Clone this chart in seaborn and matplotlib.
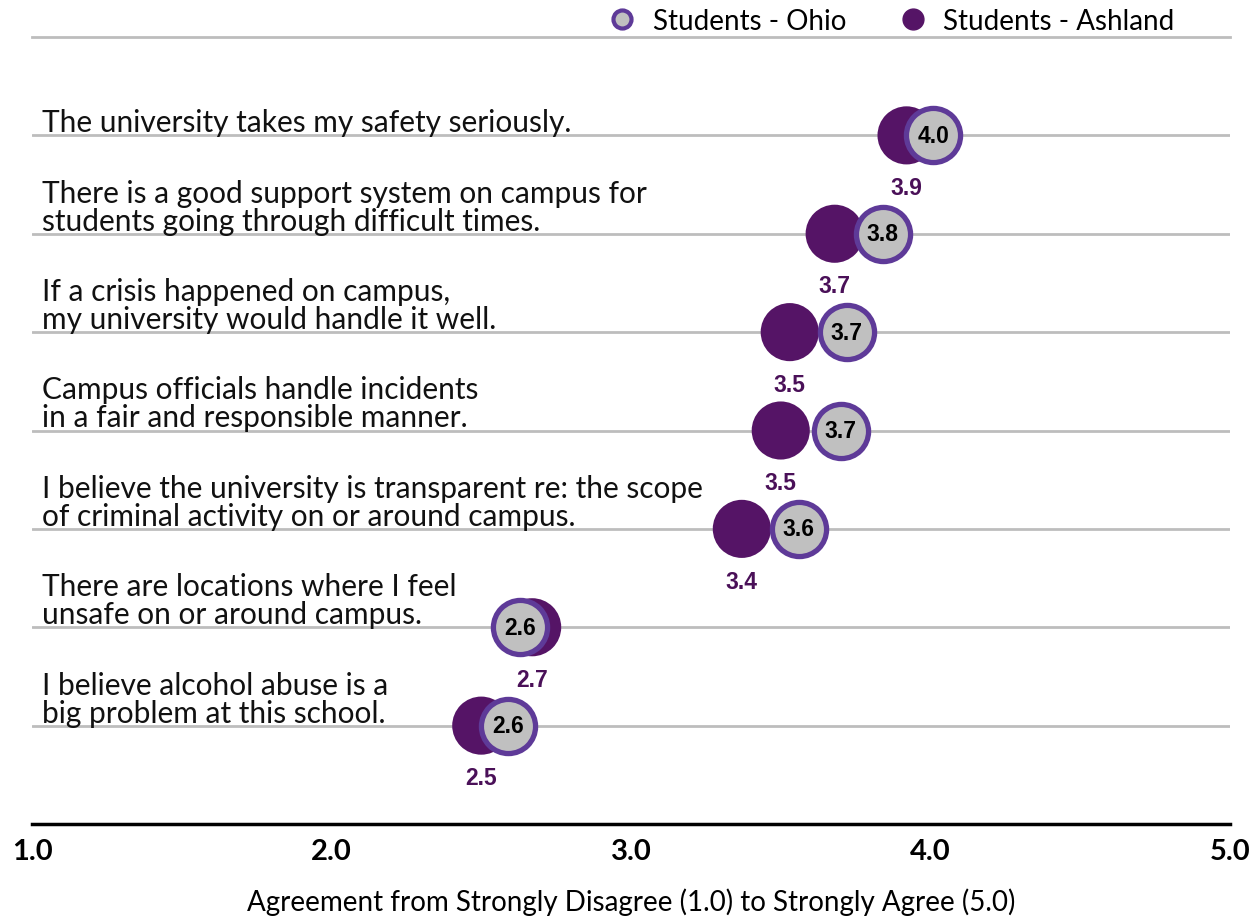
import numpy as np
import pandas as pd
import seaborn as sns
import matplotlib.pyplot as plt
from matplotlib.lines import Line2D

# Survey statements and mean agreement scores
statements = [
    "The university takes my safety seriously.",
    "There is a good support system on campus for\nstudents going through difficult times.",
    "If a crisis happened on campus,\nmy university would handle it well.",
    "Campus officials handle incidents\nin a fair and responsible manner.",
    "I believe the university is transparent re: the scope\nof criminal activity on or around campus.",
    "There are locations where I feel\nunsafe on or around campus.",
    "I believe alcohol abuse is a\nbig problem at this school.",
]
ohio = [4.01, 3.84, 3.72, 3.70, 3.56, 2.63, 2.59]
ashland = [3.92, 3.68, 3.53, 3.50, 3.37, 2.67, 2.50]
ohio_labels = ["4.0", "3.8", "3.7", "3.7", "3.6", "2.6", "2.6"]
ashland_labels = ["3.9", "3.7", "3.5", "3.5", "3.4", "2.7", "2.5"]
ticks = [1.0, 2.0, 3.0, 4.0, 5.0]

df = pd.DataFrame({"row": range(len(statements)), "ohio": ohio, "ashland": ashland})

sns.set_theme(style="white")
plt.rcParams["font.family"] = ["Lato", "DejaVu Sans"]
plt.rcParams["text.color"] = "black"
plt.rcParams["axes.labelcolor"] = "black"
plt.rcParams["xtick.color"] = "black"

purple_dark = "#551466"
purple_edge = "#5e3a98"
label_purple = "#4a1058"
grey_fill = "#c0c0c0"
line_grey = "#bdbdbd"
num_font = ["Liberation Sans", "DejaVu Sans"]

fig = plt.figure(figsize=(12.6, 9.2), dpi=100)
ax = fig.add_axes([32 / 1260, 95 / 920, 1198 / 1260, 787 / 920])

for i in range(len(statements)):
    ax.axhline(i, color=line_grey, linewidth=2, zorder=0)

sns.scatterplot(data=df, x="ashland", y="row", s=1750, color=purple_dark,
                edgecolor="none", linewidth=0, ax=ax, zorder=2, legend=False)
sns.scatterplot(data=df, x="ohio", y="row", s=1520, color=grey_fill,
                edgecolor=purple_edge, linewidth=3.8, ax=ax, zorder=3, legend=False)

for i, txt in enumerate(statements):
    ax.text(1.033, i + 0.01, txt, ha="left", va="bottom", fontsize=21.5,
            color="#111111", linespacing=1.0, zorder=1)
    ax.text(ohio[i], i, ohio_labels[i], ha="center", va="center", fontsize=16.5,
            fontweight="bold", family=num_font, color="black", zorder=4)
    ax.text(ashland[i], i + 0.53, ashland_labels[i], ha="center", va="center", fontsize=16.5,
            fontweight="bold", family=num_font, color=label_purple, zorder=4)

ax.set_xlim(1.0, 5.0)
ax.set_ylim(7.0, -1.0)
ax.set_yticks([])
ax.set_ylabel("")
ax.set_xticks(ticks)
ax.set_xticklabels([f"{t:.1f}" for t in ticks], fontsize=21, fontweight="bold")
ax.tick_params(axis="x", length=0, pad=10)
ax.set_xlabel("Agreement from Strongly Disagree (1.0) to Strongly Agree (5.0)",
              fontsize=20, labelpad=17)

for side in ["left", "right"]:
    ax.spines[side].set_visible(False)
ax.spines["top"].set_color(line_grey)
ax.spines["top"].set_linewidth(2)
ax.spines["bottom"].set_color("black")
ax.spines["bottom"].set_linewidth(2.5)

handles = [
    Line2D([], [], marker="o", linestyle="", markersize=13, markerfacecolor=grey_fill,
           markeredgecolor=purple_edge, markeredgewidth=3, label="Students - Ohio"),
    Line2D([], [], marker="o", linestyle="", markersize=15, markerfacecolor=purple_dark,
           markeredgecolor=purple_dark, label="Students - Ashland"),
]
ax.legend(handles=handles, loc="lower right", bbox_to_anchor=(0.963, 0.99), ncol=2,
          frameon=False, handletextpad=0.3, columnspacing=1.6, handlelength=1.6,
          borderaxespad=0, prop={"size": 20})

fig.savefig("out.png", dpi=100)
